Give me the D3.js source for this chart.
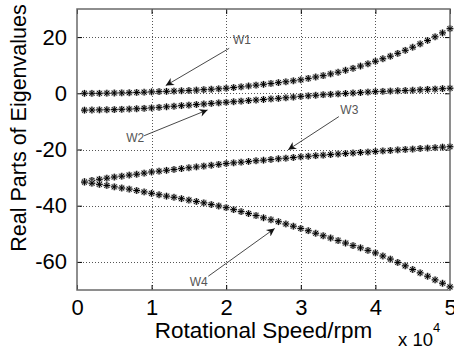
<!DOCTYPE html>
<html>
<head>
<meta charset="utf-8">
<script src="https://cdn.jsdelivr.net/npm/d3@7"></script>
<style>
  body { margin: 0; background: #fff; }
  svg { display: block; font-family: "Liberation Sans", Arial, sans-serif; }
</style>
</head>
<body>
<div id="app"></div>
<script>
// rotational speed, in units of 1e4 rpm (1000 ... 50000 rpm)
const speeds = d3.range(1, 51).map((k) => k / 10);

const w1 = [
  0.0, 0.0, 0.0, 0.05, 0.1, 0.15, 0.2, 0.3, 0.4, 0.5,
  0.6, 0.7, 0.8, 0.9, 1.0, 1.15, 1.3, 1.45, 1.6, 1.8,
  2.05, 2.3, 2.6, 2.9, 3.2, 3.5, 3.8, 4.1, 4.45, 4.8,
  5.3, 5.8, 6.3, 6.9, 7.5, 8.2, 8.9, 9.7, 10.5, 11.4,
  12.3, 13.2, 14.2, 15.3, 16.4, 17.6, 18.8, 20.1, 21.5, 23.0,
];
const w2 = [
  -6.0, -5.95, -5.9, -5.85, -5.8, -5.7, -5.6, -5.5, -5.35, -5.2,
  -5.0, -4.8, -4.6, -4.4, -4.2, -4.0, -3.8, -3.6, -3.4, -3.2,
  -3.0, -2.8, -2.6, -2.4, -2.2, -2.0, -1.8, -1.6, -1.35, -1.1,
  -0.9, -0.7, -0.5, -0.35, -0.2, -0.05, 0.1, 0.25, 0.45, 0.6,
  0.7, 0.8, 0.9, 1.0, 1.1, 1.25, 1.4, 1.5, 1.65, 1.8,
];
const w3 = [
  -31.4, -31.0, -30.6, -30.2, -29.8, -29.5, -29.1, -28.8, -28.4, -28.0,
  -27.7, -27.4, -27.1, -26.8, -26.5, -26.2, -25.9, -25.6, -25.3, -25.0,
  -24.75, -24.5, -24.25, -24.0, -23.8, -23.55, -23.3, -23.1, -22.85, -22.6,
  -22.4, -22.2, -22.0, -21.8, -21.6, -21.45, -21.25, -21.05, -20.9, -20.7,
  -20.5, -20.35, -20.15, -20.0, -19.85, -19.65, -19.5, -19.35, -19.15, -19.0,
];
const w4 = [
  -31.6, -32.0, -32.4, -32.8, -33.3, -33.7, -34.1, -34.6, -35.1, -35.6,
  -36.1, -36.6, -37.0, -37.5, -38.0, -38.5, -39.0, -39.6, -40.1, -40.7,
  -41.4, -42.1, -42.8, -43.5, -44.3, -45.0, -45.7, -46.5, -47.3, -48.1,
  -48.9, -49.8, -50.7, -51.5, -52.4, -53.3, -54.2, -55.0, -55.9, -56.8,
  -57.9, -59.0, -60.2, -61.4, -62.7, -63.9, -65.1, -66.4, -67.6, -68.9,
];

const xTicks = [0, 1, 2, 3, 4, 5];
const yTicks = [-60, -40, -20, 0, 20];

// annotation labels: [label, textX, textY, lineStartX, lineStartY, tipX, tipY]
const notes = [
  ["W1", 2.09, 17.4, 2.04, 16.0, 1.19, 2.75],
  ["W2", 0.66, -17.3, 0.9, -15.1, 1.75, -5.9],
  ["W3", 3.53, -7.3, 3.51, -8.3, 2.83, -20.1],
  ["W4", 1.51, -68.7, 1.76, -65.1, 2.65, -48.1],
];

const width = 454;
const height = 351;
const margin = { top: 9, right: 4, bottom: 61, left: 77 };

const svg = d3
  .select("#app")
  .append("svg")
  .attr("width", width)
  .attr("height", height)
  .attr("viewBox", [0, 0, width, height]);

const x = d3.scaleLinear().domain([0, 5]).range([margin.left, width - margin.right]);
const y = d3.scaleLinear().domain([-70, 30]).range([height - margin.bottom, margin.top]);

const [x0, x1] = x.range();
const [y1, y0] = y.range();

// grid
const grid = svg.append("g").attr("stroke", "#555").attr("stroke-dasharray", "1,2").attr("stroke-width", 1);
grid
  .selectAll(".gx")
  .data(xTicks.slice(1, -1))
  .join("line")
  .attr("x1", (d) => Math.round(x(d)) + 0.5)
  .attr("x2", (d) => Math.round(x(d)) + 0.5)
  .attr("y1", y0)
  .attr("y2", y1);
grid
  .selectAll(".gy")
  .data(yTicks)
  .join("line")
  .attr("y1", (d) => Math.round(y(d)) + 0.5)
  .attr("y2", (d) => Math.round(y(d)) + 0.5)
  .attr("x1", x0)
  .attr("x2", x1);

// axes with inward ticks on all four sides
const fmt = (d) => String(d).replace("−", "-");
svg
  .append("g")
  .attr("transform", `translate(0,${y1})`)
  .call(d3.axisBottom(x).tickValues(xTicks).tickSizeInner(-5).tickSizeOuter(0).tickPadding(9).tickFormat(fmt))
  .call((g) => g.select(".domain").remove());
svg
  .append("g")
  .attr("transform", `translate(0,${y0})`)
  .call(d3.axisTop(x).tickValues(xTicks).tickSizeInner(-5).tickSizeOuter(0).tickFormat(""))
  .call((g) => g.select(".domain").remove());
svg
  .append("g")
  .attr("transform", `translate(${x0},0)`)
  .call(d3.axisLeft(y).tickValues(yTicks).tickSizeInner(-5).tickSizeOuter(0).tickPadding(10).tickFormat(fmt))
  .call((g) => g.select(".domain").remove());
svg
  .append("g")
  .attr("transform", `translate(${x1},0)`)
  .call(d3.axisRight(y).tickValues(yTicks).tickSizeInner(-5).tickSizeOuter(0).tickFormat(""))
  .call((g) => g.select(".domain").remove());

svg
  .selectAll(".tick text")
  .attr("font-family", "Liberation Sans, Arial, sans-serif")
  .attr("font-size", 22)
  .attr("fill", "#000");
svg.selectAll(".tick line").attr("stroke", "#000");

// frame
svg
  .append("rect")
  .attr("x", x0)
  .attr("y", y0)
  .attr("width", x1 - x0)
  .attr("height", y1 - y0)
  .attr("fill", "none")
  .attr("stroke", "#6a6a6a")
  .attr("stroke-width", 1.5);

// asterisk markers
const r = 3.4;
const d2 = r * 0.72;
const star = `M${-r},0H${r}M0,${-r}V${r}M${-d2},${-d2}L${d2},${d2}M${-d2},${d2}L${d2},${-d2}`;

const series = [w1, w2, w3, w4];
const marks = svg.append("g");
series.forEach((vals) => {
  const pts = vals.map((v, i) => [speeds[i], v]);
  const g = marks.append("g");
  g.selectAll("path.halo")
    .data(pts)
    .join("path")
    .attr("class", "halo")
    .attr("d", star)
    .attr("transform", (d) => `translate(${x(d[0])},${y(d[1])})`)
    .attr("stroke", "#b8b8b8")
    .attr("stroke-width", 2.4)
    .attr("fill", "none");
  g.selectAll("path.core")
    .data(pts)
    .join("path")
    .attr("class", "core")
    .attr("d", star)
    .attr("transform", (d) => `translate(${x(d[0])},${y(d[1])})`)
    .attr("stroke", "#000")
    .attr("stroke-width", 1)
    .attr("fill", "none");
});

// annotations
svg
  .append("defs")
  .append("marker")
  .attr("id", "head")
  .attr("viewBox", "0 0 10 10")
  .attr("refX", 10)
  .attr("refY", 5)
  .attr("markerWidth", 10)
  .attr("markerHeight", 8)
  .attr("markerUnits", "userSpaceOnUse")
  .attr("orient", "auto")
  .append("path")
  .attr("d", "M0,0L10,5L0,10L3,5Z")
  .attr("fill", "#111");

const ann = svg.append("g");
ann
  .selectAll("line")
  .data(notes)
  .join("line")
  .attr("x1", (d) => x(d[3]))
  .attr("y1", (d) => y(d[4]))
  .attr("x2", (d) => x(d[5]))
  .attr("y2", (d) => y(d[6]))
  .attr("stroke", "#333")
  .attr("stroke-width", 0.9)
  .attr("marker-end", "url(#head)");
ann
  .selectAll("text")
  .data(notes)
  .join("text")
  .attr("x", (d) => x(d[1]))
  .attr("y", (d) => y(d[2]))
  .attr("font-size", 12)
  .attr("fill", "#555")
  .text((d) => d[0]);

// axis titles
svg
  .append("text")
  .attr("x", (x0 + x1) / 2)
  .attr("y", 338)
  .attr("text-anchor", "middle")
  .attr("font-size", 22.5)
  .text("Rotational Speed/rpm");

svg
  .append("text")
  .attr("transform", `translate(26,128) rotate(-90)`)
  .attr("text-anchor", "middle")
  .attr("font-size", 21.5)
  .text("Real Parts of Eigenvalues");

const ex = svg.append("text").attr("x", 398).attr("y", 346).attr("font-size", 18.5);
ex.append("tspan").text("x 10");
ex.append("tspan").attr("font-size", 13).attr("dy", -14).text("4");
</script>
</body>
</html>
